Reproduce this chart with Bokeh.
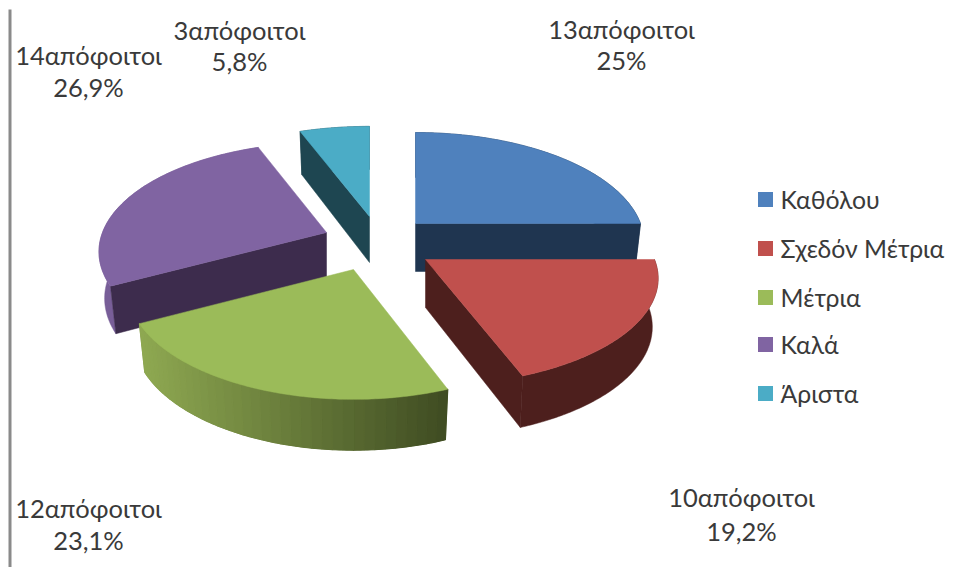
import numpy as np
from bokeh.plotting import figure
from bokeh.models import Range1d
from bokeh.core.properties import value
from bokeh.embed import file_html
from bokeh.resources import INLINE

# data
categories = ["Καθόλου", "Σχεδόν Μέτρια", "Μέτρια", "Καλά", "Άριστα"]
graduates = [13, 10, 12, 14, 3]
percent_labels = ["25%", "19,2%", "23,1%", "26,9%", "5,8%"]

# styles
top_colors = ["#4f81bd", "#c0504d", "#9bbb59", "#8064a2", "#4bacc6"]
dark_colors = ["#1f3550", "#4d1f1d", "#66793a", "#3d2c4d", "#1e4651"]
wall_colors = ["#1f3550", "#4d1f1d", "#66793a", "#785e98", "#1e4651"]

# layout: exploded slice apex, radii and depth (page pixels)
apex_x = [415, 425, 353, 326, 369]
apex_y = [223, 259, 269, 232, 216]
rad_x = [225, 229, 222, 224, 228]
rad_y = [107, 104, 107, 106, 106]
depth = [48, 48, 47, 46, 46]
cut_edge = ["end", "end", None, "start", "start"]
PERSP = 0.176
FONT = "Lato"
W, H = 948, 567

p = figure(width=W, height=H, x_range=Range1d(0, W), y_range=Range1d(H, 0),
           output_backend="svg", toolbar_location=None, min_border=0,
           outline_line_color=None, background_fill_color="white")
p.axis.visible = False
p.grid.visible = False

p.line([9.5, 9.5], [9, H], line_color="#8a8a8a", line_width=3)


def mix(c1, c2, t):
    a = [int(c1[i:i + 2], 16) for i in (1, 3, 5)]
    b = [int(c2[i:i + 2], 16) for i in (1, 3, 5)]
    return "#%02x%02x%02x" % tuple(int(round(a[k] + (b[k] - a[k]) * t)) for k in range(3))


def rim(i, theta):
    w = 1 + PERSP * np.cos(theta)
    return (apex_x[i] + rad_x[i] * np.sin(theta) / w,
            apex_y[i] - rad_y[i] * np.cos(theta) / w)


def lower(i, x, y, theta):
    w = 1 + PERSP * np.cos(theta)
    return apex_x[i] + (x - apex_x[i]) * 0.975, y + depth[i] / w ** 0.4


total = sum(graduates)
edges = np.concatenate([[0], np.cumsum(graduates)]) / total * 2 * np.pi

for i in [0, 4, 3, 2, 1]:
    th = np.linspace(edges[i], edges[i + 1], 109)
    x, y = rim(i, th)
    bx, by = lower(i, x, y, th)
    # outer wall, in one piece
    p.patch(np.r_[x, bx[::-1]], np.r_[y, by[::-1]],
            fill_color=wall_colors[i], line_color=wall_colors[i], line_width=0.5)
    if i == 2:
        # the green wall darkens from left to right, in fine bands
        band = np.linspace(0, len(th) - 1, 37).astype(int)
        xs, ys, cols = [], [], []
        for a, b in zip(band[:-1], band[1:]):
            seg = np.arange(a, b + 1)
            xs.append(np.r_[x[seg], bx[seg][::-1]])
            ys.append(np.r_[y[seg], by[seg][::-1]])
            t = np.clip((x[a:b + 1].mean() - 141) / (446 - 141), 0, 1)
            cols.append(mix("#8ea851", "#3f4c22", t))
        p.patches(xs, ys, fill_color=cols, line_color=cols, line_width=1.2)

    if cut_edge[i]:
        t0 = edges[i + 1] if cut_edge[i] == "end" else edges[i]
        ex, ey = rim(i, t0)
        ebx, eby = lower(i, ex, ey, t0)
        a_bot = apex_y[i] + depth[i]
        p.patch([apex_x[i], ex, ebx, apex_x[i]], [apex_y[i], ey, eby, a_bot],
                fill_color=dark_colors[i], line_color=dark_colors[i], line_width=0.5)

    p.patch(np.r_[apex_x[i], x], np.r_[apex_y[i], y],
            fill_color=top_colors[i], line_color=top_colors[i], line_width=0.5)

# data labels
label_x = [621, 741, 88, 88, 239]
label_y1 = [28, 496, 507, 54, 29]
label_y2 = [59, 530, 539, 86, 60]
p.text(label_x, label_y1, text=[f"{v}απόφοιτοι" for v in graduates],
       text_font=value(FONT), text_font_size="25.5px", text_color="#3a3a3a",
       text_align="center", text_baseline="middle")
p.text(label_x, label_y2, text=percent_labels,
       text_font=value(FONT), text_font_size="25.5px", text_color="#3a3a3a",
       text_align="center", text_baseline="middle")

# legend
legend_y = [199, 248, 297, 344, 393]
p.scatter([765] * 5, legend_y, marker="square", size=15, fill_color=top_colors, line_color=None)
p.text([780] * 5, legend_y, text=categories, text_font=value(FONT), text_font_size="24.8px",
       text_color="#3a3a3a", text_align="left", text_baseline="middle")

open("out.html", "w").write(file_html(p, INLINE))
